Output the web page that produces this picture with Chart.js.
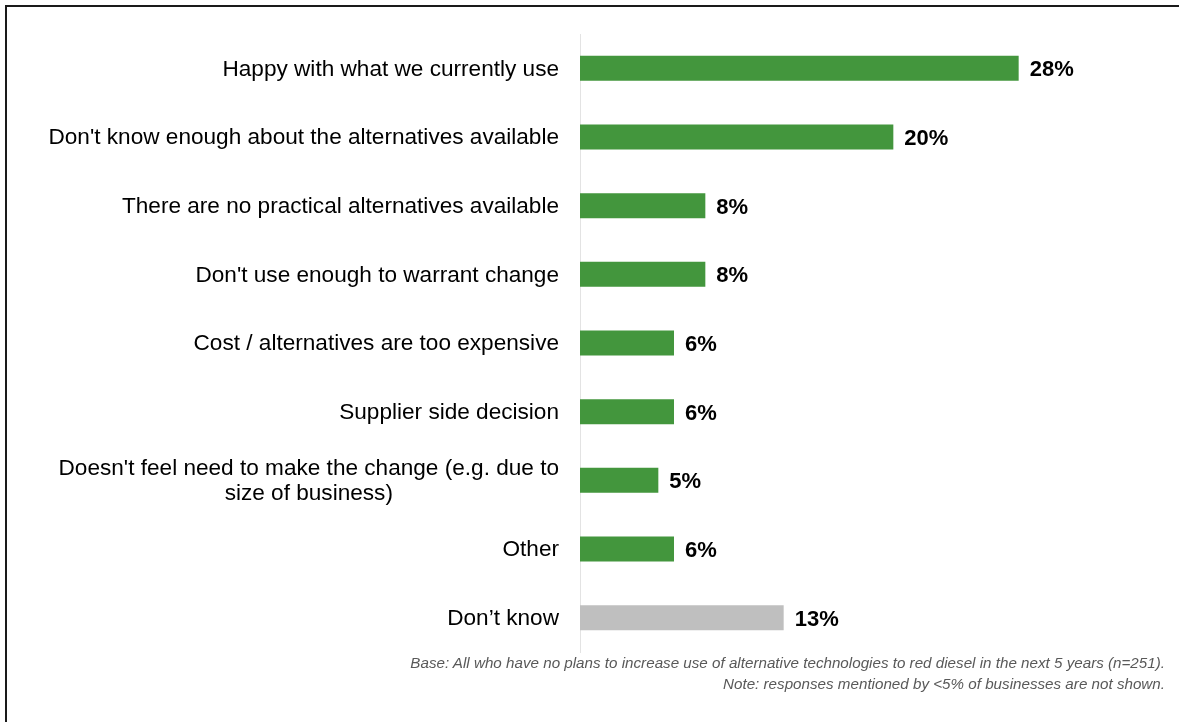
<!DOCTYPE html>
<html>
<head>
<meta charset="utf-8">
<script src="https://cdn.jsdelivr.net/npm/chart.js@4"></script>
<style>
  html, body { margin: 0; padding: 0; background: #fff; }
  #wrap { position: relative; width: 1179px; height: 722px; overflow: hidden; }
  #frame {
    position: absolute; left: 5px; top: 5px; width: 1200px; height: 740px;
    border: 2px solid #1a1a1a; box-sizing: border-box;
  }
  canvas { position: absolute; left: 0; top: 0; }
  .note {
    position: absolute; right: 14px; font-family: "Liberation Sans", Arial, sans-serif;
    font-style: italic; font-size: 15.2px; color: #595959; text-align: right; line-height: 21px;
  }
</style>
</head>
<body>
<div id="wrap">
  <div id="frame"></div>
  <canvas id="chart" width="1179" height="722"></canvas>
  <div class="note" style="top:652px">Base: All who have no plans to increase use of alternative technologies to red diesel in the next 5 years (n=251).<br>Note: responses mentioned by &lt;5% of businesses are not shown.</div>
</div>
<script>
const reasons = [
  "Happy with what we currently use",
  "Don't know enough about the alternatives available",
  "There are no practical alternatives available",
  "Don't use enough to warrant change",
  "Cost / alternatives are too expensive",
  "Supplier side decision",
  ["Doesn't feel need to make the change (e.g. due to", "size of business)"],
  "Other",
  "Don\u2019t know",
];
const shares = [28, 20, 8, 8, 6, 6, 5, 6, 13];
const barColors = ["#43963d", "#43963d", "#43963d", "#43963d", "#43963d", "#43963d", "#43963d", "#43963d", "#bfbfbf"];

const FONT = '"Liberation Sans", Arial, sans-serif';

// category labels right-aligned against the axis; wrapped labels are centred line by line
const categoryLabels = {
  id: "categoryLabels",
  afterDraw(chart) {
    const { ctx } = chart;
    const y = chart.scales.y;
    const right = y.right - 21;
    const lh = 25;
    ctx.save();
    ctx.font = "22.6px " + FONT;
    ctx.fillStyle = "#000";
    ctx.textBaseline = "middle";
    reasons.forEach((label, i) => {
      const cy = y.getPixelForValue(i) + 1;
      const lines = Array.isArray(label) ? label : [label];
      if (lines.length === 1) {
        ctx.textAlign = "right";
        ctx.fillText(lines[0], right, cy);
      } else {
        const widest = Math.max(...lines.map((l) => ctx.measureText(l).width));
        const cx = right - widest / 2;
        ctx.textAlign = "center";
        lines.forEach((l, k) => {
          ctx.fillText(l, cx, cy + (k - (lines.length - 1) / 2) * lh);
        });
      }
    });
    ctx.restore();
  },
};

// bold percentage after each bar
const valueLabels = {
  id: "valueLabels",
  afterDatasetsDraw(chart) {
    const { ctx } = chart;
    const meta = chart.getDatasetMeta(0);
    ctx.save();
    ctx.font = "bold 22px " + FONT;
    ctx.fillStyle = "#000";
    ctx.textAlign = "left";
    ctx.textBaseline = "middle";
    meta.data.forEach((bar, i) => {
      ctx.fillText(shares[i] + "%", bar.x + 11, bar.y + 2);
    });
    ctx.restore();
  },
};

new Chart(document.getElementById("chart"), {
  type: "bar",
  data: {
    labels: reasons,
    datasets: [
      {
        data: shares,
        backgroundColor: barColors,
        borderWidth: 0,
        categoryPercentage: 1,
        barPercentage: 0.365,
      },
    ],
  },
  options: {
    indexAxis: "y",
    responsive: false,
    animation: false,
    events: [],
    layout: { padding: { top: 34, bottom: 70, left: 0, right: 35 } },
    scales: {
      x: {
        display: false,
        min: 0,
        max: 36,
      },
      y: {
        afterFit: (scale) => { scale.width = 580; },
        ticks: { display: false },
        grid: { display: false },
        border: { display: true, color: "#e3e3e3", width: 1 },
      },
    },
    plugins: {
      legend: { display: false },
      tooltip: { enabled: false },
    },
  },
  plugins: [categoryLabels, valueLabels],
});
</script>
</body>
</html>
